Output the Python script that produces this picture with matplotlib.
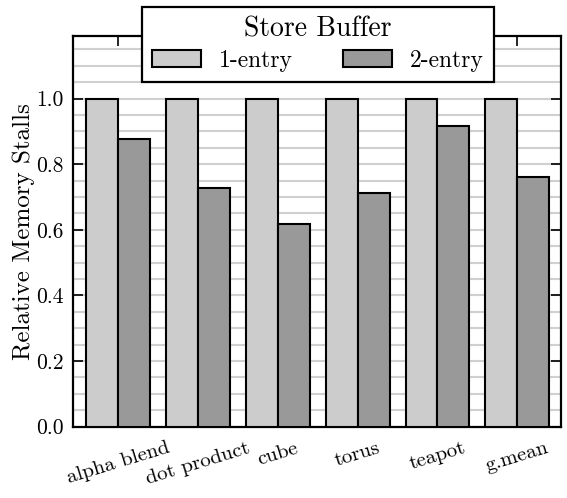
import numpy as np
import matplotlib
matplotlib.use("Agg")
import matplotlib.pyplot as plt
from matplotlib.ticker import MultipleLocator

plt.rcParams["font.family"] = ["cmr10", "DejaVu Serif"]
plt.rcParams["mathtext.fontset"] = "cm"
plt.rcParams["axes.formatter.use_mathtext"] = True

benchmarks = ["alpha blend", "dot product", "cube", "torus", "teapot", "g.mean"]
one_entry = [1.0, 1.0, 1.0, 1.0, 1.0, 1.0]
two_entry = [0.876, 0.727, 0.618, 0.712, 0.917, 0.762]
series_labels = ["1-entry", "2-entry"]
legend_title = "Store Buffer"
y_label = "Relative Memory Stalls"

fig = plt.figure(figsize=(5.67, 4.98), dpi=100)
ax = fig.add_axes([0.1293, 0.1432, 0.8596, 0.7851])

x = np.arange(len(benchmarks))
w = 0.4
edge_lw = 1.5
ax.bar(x - w / 2, one_entry, w, color="#cccccc", edgecolor="black",
       linewidth=edge_lw, label=series_labels[0], zorder=3)
ax.bar(x + w / 2, two_entry, w, color="#999999", edgecolor="black",
       linewidth=edge_lw, label=series_labels[1], zorder=3)

ax.set_xlim(-0.565, 5.545)
ax.set_ylim(0, 1.192)
ax.set_xticks(x)
ax.set_xticklabels(benchmarks, rotation=17, ha="center", fontsize=15)
ax.yaxis.set_minor_locator(MultipleLocator(0.05))
yt = np.arange(0, 1.01, 0.2)
ax.set_yticks(yt)
ax.set_yticklabels([f"{v:.1f}" for v in yt], fontsize=15.5)
ax.set_ylabel(y_label, fontsize=18, labelpad=1)

ax.grid(which="both", axis="y", color="#d0d0d0", linewidth=1.5, zorder=0)
ax.set_axisbelow(True)
ax.tick_params(which="major", direction="in", top=True, right=True,
               length=7, width=1.2)
ax.tick_params(axis="y", which="major", pad=7)
ax.tick_params(axis="x", which="major", pad=9)
ax.tick_params(which="minor", length=0)
for s in ax.spines.values():
    s.set_linewidth(1.6)

leg = ax.legend(title=legend_title, ncol=2, loc="upper center",
                bbox_to_anchor=(0.502, 1.073), borderaxespad=0,
                fontsize=17, title_fontsize=20, fancybox=False,
                framealpha=1, edgecolor="black", handlelength=2.1,
                handleheight=0.72, handletextpad=0.76, columnspacing=2.1,
                borderpad=0.4, labelspacing=0.3)
leg.get_frame().set_linewidth(1.6)
leg.set_zorder(10)

fig.savefig("out.png", dpi=100)
